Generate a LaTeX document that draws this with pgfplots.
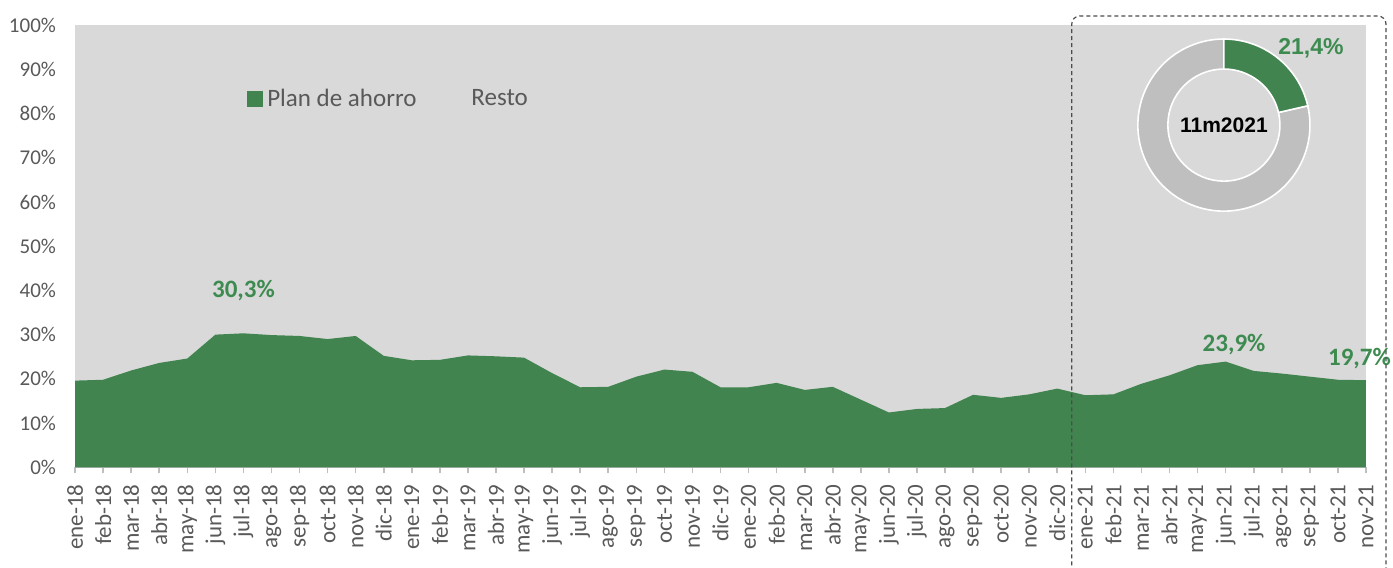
\documentclass[border=0pt]{standalone}
\usepackage{fontspec}
\setmainfont{Carlito}
\newfontfamily\arialf{Liberation Sans}
\usepackage{pgfplots}
\usepackage{pgfplotstable}
\pgfplotsset{compat=1.18}
\definecolor{pgreen}{HTML}{41844F}
\definecolor{lblgreen}{HTML}{3D8B50}
\definecolor{bggrey}{HTML}{D9D9D9}
\definecolor{ringgrey}{HTML}{BFBFBF}
\definecolor{txtgrey}{HTML}{595959}

\pgfplotstableread{
x y
0 19.6
1 19.8
2 21.9
3 23.6
4 24.6
5 30.0
6 30.3
7 29.9
8 29.7
9 29.0
10 29.7
11 25.2
12 24.2
13 24.3
14 25.3
15 25.1
16 24.8
17 21.3
18 18.1
19 18.2
20 20.5
21 22.1
22 21.6
23 18.1
24 18.1
25 19.1
26 17.5
27 18.2
28 15.3
29 12.4
30 13.2
31 13.4
32 16.4
33 15.7
34 16.5
35 17.8
36 16.3
37 16.5
38 18.9
39 20.8
40 23.1
41 23.9
42 21.8
43 21.2
44 20.5
45 19.8
46 19.7
}\plandata

\pgfplotstableread{
x y
0 100
46 100
}\restodata

\begin{document}
\begin{tikzpicture}
\begin{axis}[
  at={(0,0)}, anchor=south west,
  scale only axis, width=645pt, height=221pt,
  xmin=0, xmax=46, ymin=0, ymax=100,
  clip=false,
  axis x line*=bottom, axis y line*=left,
  x axis line style={draw=ringgrey, line width=0.8pt},
  y axis line style={draw=none},
  ytick style={draw=none},
  xtick={0,...,46},
  xticklabels={ene-18,feb-18,mar-18,abr-18,may-18,jun-18,jul-18,ago-18,sep-18,oct-18,nov-18,dic-18,
    ene-19,feb-19,mar-19,abr-19,may-19,jun-19,jul-19,ago-19,sep-19,oct-19,nov-19,dic-19,
    ene-20,feb-20,mar-20,abr-20,may-20,jun-20,jul-20,ago-20,sep-20,oct-20,nov-20,dic-20,
    ene-21,feb-21,mar-21,abr-21,may-21,jun-21,jul-21,ago-21,sep-21,oct-21,nov-21},
  xticklabel style={rotate=90, anchor=east, font=\fontsize{11.5}{12}\selectfont, text=txtgrey, xshift=-2pt},
  x tick style={draw=ringgrey, line width=0.8pt},
  tick align=outside, major tick length=3pt,
  ytick={0,10,...,100},
  yticklabel={\pgfmathprintnumber{\tick}\%},
  yticklabel style={font=\fontsize{10.5}{12}\selectfont, text=txtgrey, xshift=-3pt},
  /pgf/number format/assume math mode=true,
  legend style={at={(axis cs:6.13,83.3)}, anchor=west, draw=none, fill=none, inner sep=0pt,
    font=\fontsize{12.5}{14}\selectfont, text=txtgrey,
    /tikz/every even column/.append style={column sep=15.5pt}},
  legend columns=2,
  legend cell align=left,
]
\addplot[fill=bggrey, draw=none, forget plot] table[x=x,y=y] {\restodata} \closedcycle;
\addplot[fill=pgreen, draw=none, forget plot] table[x=x,y=y] {\plandata} \closedcycle;
\addlegendimage{legend image code/.code={\fill[pgreen] (0pt,-3.75pt) rectangle (7.5pt,3.75pt);}}
\addlegendentry{Plan de ahorro}
\addlegendimage{legend image code/.code={\fill[bggrey] (0pt,-3.75pt) rectangle (7.5pt,3.75pt);}}
\addlegendentry{Resto}
\node[font=\bfseries\fontsize{12.5}{14}\selectfont, text=lblgreen] at (axis cs:6,40) {30,3\%};
\node[font=\bfseries\fontsize{12.5}{14}\selectfont, text=lblgreen] at (axis cs:41.3,27.8) {23,9\%};
\node[font=\bfseries\fontsize{12.5}{14}\selectfont, text=lblgreen, anchor=east, inner sep=0pt] at (axis cs:46.9,24.7) {19,7\%};
\end{axis}
% inset donut (value 21.4 %)
\pgfmathsetmacro{\ang}{90-3.6*21.4}
\begin{scope}[shift={(574pt,171pt)}]
  \filldraw[fill=ringgrey, draw=white, line width=0.8pt] (\ang:43pt) arc[start angle=\ang, end angle=-270, radius=43pt] -- (90:28pt) arc[start angle=-270, end angle=\ang, radius=28pt] -- cycle;
  \filldraw[fill=pgreen, draw=white, line width=0.8pt] (90:43pt) arc[start angle=90, end angle=\ang, radius=43pt] -- (\ang:28pt) arc[start angle=\ang, end angle=90, radius=28pt] -- cycle;
  \node[font=\arialf\bfseries\fontsize{10.5}{12}\selectfont, text=black] at (0,0) {11m2021};
\end{scope}
\node[font=\arialf\bfseries\fontsize{11.5}{13}\selectfont, text=lblgreen] at (617.5pt,209.5pt) {21,4\%};
\draw[dash pattern=on 2pt off 1.5pt, color=black!70, line width=0.6pt, rounded corners=4pt] (498pt,-60pt) rectangle (655pt,225.5pt);
\pgfresetboundingbox
\path[use as bounding box] (-37.5pt,-50pt) rectangle (658.5pt,233.5pt);
\end{tikzpicture}
\end{document}
